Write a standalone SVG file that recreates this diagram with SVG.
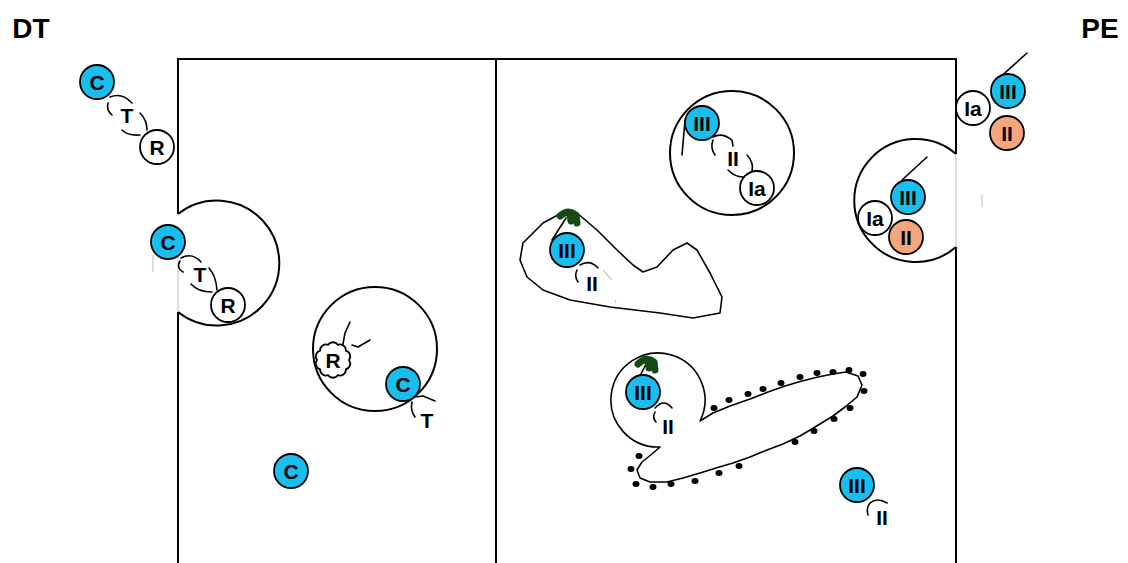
<svg xmlns="http://www.w3.org/2000/svg" width="1128" height="563" viewBox="0 0 1128 563">
<style>
.fr{fill:none;stroke:#000;stroke-width:2}
.fa{fill:none;stroke:#c8c8c8;stroke-width:1.2}
.ln{fill:none;stroke:#000;stroke-width:1.6;stroke-linecap:round;stroke-linejoin:round}
.cy{fill:#19BEEF;stroke:#000;stroke-width:1.8}
.wh{fill:#fff;stroke:#000;stroke-width:1.8}
.or{fill:#F6A67C;stroke:#000;stroke-width:1.8}
.gr{fill:none;stroke:#154a15;stroke-width:7;stroke-linecap:round;stroke-linejoin:round}
.t{font-family:"Liberation Sans",Arial,sans-serif;font-weight:bold;font-size:21px;text-anchor:middle;fill:#000}
.h{font-family:"Liberation Sans",Arial,sans-serif;font-weight:bold;font-size:28px;text-anchor:middle;fill:#000}
.dot{fill:#000}
</style>
<rect width="1128" height="563" fill="#fff"/>
<g id="frame">
<path class="fr" d="M178,563 V312 M178,214 V59 H956 V154 M956,247 V563 M496,59 V563"/>
<path class="fa" d="M178,255 V311 M153,255 V272 M956,156 V246 M982,195 V207"/>
</g>
<text class="h" x="31" y="38">DT</text>
<text class="h" x="1100" y="38">PE</text>
<g id="connectors">
<path class="ln" d="M110,97 Q122,92 132,103 M140,113 Q147,120 147,130 M108,103 Q106,110 112,115 M122,130 Q128,136 140,135"/>
<path class="ln" d="M181,258 Q192,252 201,262 M209,268 Q216,276 217,290 M180,261 Q176,268 183,272 M191,284 Q198,292 212,292"/>
<path class="ln" d="M343,344 L345,333 L350,322 M352,345 L358,347 L370,340"/>
<path class="ln" d="M415,397 L423,396 L435,401 M412,402 Q410,410 415,417"/>
<path class="ln" d="M713,137 Q722,132 732,140 L733,146 M713,140 Q710,148 715,155 M747,155 Q754,162 752,172 M728,170 Q735,177 743,177"/>
<path class="ln" d="M682,155 L685,120"/>
<path class="ln" d="M902,180 L927,157"/>
<path class="ln" d="M997,80 L1027,53"/>
<path class="ln" d="M577,270 Q574,276 578,282 M580,265 Q590,259 598,268"/>
<path class="fa" d="M603,270 L612,280 M615,300 L616,303"/>
<path class="ln" d="M552,240 L566,218"/>
<path class="ln" d="M655,408 Q664,398 672,408 M655,412 Q652,418 656,422"/>
<path class="ln" d="M636,384 L647,362"/>
<path class="ln" d="M868,515 Q866,508 870,503 Q877,497 887,503"/>
</g>
<g id="blob1">
<path class="ln" d="M567,210 L577,213 L597,230 L617,250 L633,265 L643,272 L657,267 L673,250 L687,243 L697,250 L710,273 L722,297 L720,313 L693,318 L660,313 L610,307 L570,300 L543,290 L527,277 L520,260 L523,243 L543,223 Z"/>
<path class="gr" d="M560,216 Q568,209 576,215 L577,223 M570,214 L571,221"/>
</g>
<g id="blob2">
<path class="ln" d="M660,447 A47,47 0 1 1 700,421 L713,413 L730,406 L750,399 L768,392 L785,386 L802,381 L818,377 L833,374 L846,372 L858,376 L862,385 L857,397 L845,407 L833,416 L815,427 L800,436 L783,444 L767,450 L750,457 L733,463 L716,468 L700,473 L683,478 L667,482 L650,482 L640,478 L637,470 L642,462 L652,454 Z"/>
<path class="gr" d="M638,364 Q646,356 654,362 L655,370 M648,361 L649,368"/>
<g class="dot">
<ellipse cx="714" cy="408" rx="3.5" ry="3"/><ellipse cx="729" cy="400" rx="3.5" ry="3"/><ellipse cx="748" cy="394" rx="3.5" ry="3"/><ellipse cx="763" cy="389" rx="3.5" ry="3"/><ellipse cx="781" cy="383" rx="3.5" ry="3"/><ellipse cx="800" cy="377" rx="3.5" ry="3"/><ellipse cx="817" cy="373" rx="3.5" ry="3"/><ellipse cx="833" cy="372" rx="3.5" ry="3"/><ellipse cx="849" cy="370" rx="3.5" ry="3"/><ellipse cx="863" cy="374" rx="3.5" ry="3"/><ellipse cx="864" cy="391" rx="3.5" ry="3"/><ellipse cx="850" cy="408" rx="3.5" ry="3"/><ellipse cx="834" cy="419" rx="3.5" ry="3"/><ellipse cx="814" cy="431" rx="3.5" ry="3"/><ellipse cx="795" cy="442" rx="3.5" ry="3"/><ellipse cx="739" cy="466" rx="3.5" ry="3"/><ellipse cx="719" cy="473" rx="3.5" ry="3"/><ellipse cx="695" cy="481" rx="3.5" ry="3"/><ellipse cx="671" cy="484" rx="3.5" ry="3"/><ellipse cx="653" cy="487" rx="3.5" ry="3"/><ellipse cx="636" cy="484" rx="3.5" ry="3"/><ellipse cx="631" cy="469" rx="3.5" ry="3"/><ellipse cx="639" cy="456" rx="3.5" ry="3"/>
</g>
</g>
<g id="cellL1"><path class="fr" d="M178,214 A62.5,62.5 0 1 1 178,312"/></g>
<g id="cellL2"><circle class="fr" cx="375" cy="349" r="62"/></g>
<g id="cellR1"><circle class="fr" cx="732" cy="153" r="62"/></g>
<g id="cellR2"><path class="fr" d="M956,154 A61.5,61.5 0 1 0 956,247"/></g>
<g id="n-dt-c"><circle class="cy" cx="97" cy="82" r="17"/><text class="t" x="97" y="90">C</text></g>
<g id="n-dt-t"><text class="t" x="127" y="123">T</text></g>
<g id="n-dt-r"><circle class="wh" cx="157" cy="147" r="17"/><text class="t" x="157" y="155">R</text></g>
<g id="n-l1-c"><circle class="cy" cx="168" cy="242" r="17"/><text class="t" x="168" y="250">C</text></g>
<g id="n-l1-t"><text class="t" x="200" y="282">T</text></g>
<g id="n-l1-r"><circle class="wh" cx="228" cy="305" r="17"/><text class="t" x="228" y="313">R</text></g>
<g id="n-l2-r"><path class="wh" d="M349,360 A6,6 0 0 1 345.9,369.4 A6,6 0 0 1 337.9,375.2 A6,6 0 0 1 328.1,375.2 A6,6 0 0 1 320.1,369.4 A6,6 0 0 1 317,360 A6,6 0 0 1 320.1,350.6 A6,6 0 0 1 328.1,344.8 A6,6 0 0 1 337.9,344.8 A6,6 0 0 1 345.9,350.6 A6,6 0 0 1 349,360 Z"/><text class="t" x="333" y="368">R</text></g>
<g id="n-l2-c"><circle class="cy" cx="403" cy="384" r="17"/><text class="t" x="403" y="392">C</text></g>
<g id="n-l2-t"><text class="t" x="427" y="428">T</text></g>
<g id="n-l3-c"><circle class="cy" cx="291" cy="471" r="17"/><text class="t" x="291" y="479">C</text></g>
<g id="n-r1-iii"><circle class="cy" cx="702" cy="123" r="17"/><text class="t" x="702" y="131">III</text></g>
<g id="n-r1-ii"><text class="t" x="733" y="166">II</text></g>
<g id="n-r1-ia"><circle class="wh" cx="757" cy="188" r="17"/><text class="t" x="757" y="196">Ia</text></g>
<g id="n-r2-iii"><circle class="cy" cx="908" cy="197" r="17"/><text class="t" x="908" y="205">III</text></g>
<g id="n-r2-ia"><circle class="wh" cx="875" cy="218" r="17"/><text class="t" x="875" y="226">Ia</text></g>
<g id="n-r2-ii"><circle class="or" cx="906" cy="237" r="17"/><text class="t" x="906" y="245">II</text></g>
<g id="n-pe-ia"><circle class="wh" cx="973" cy="108" r="17"/><text class="t" x="973" y="116">Ia</text></g>
<g id="n-pe-iii"><circle class="cy" cx="1008" cy="91" r="17"/><text class="t" x="1008" y="99">III</text></g>
<g id="n-pe-ii"><circle class="or" cx="1007" cy="133" r="17"/><text class="t" x="1007" y="141">II</text></g>
<g id="n-b1-iii"><circle class="cy" cx="567" cy="250" r="17"/><text class="t" x="567" y="258">III</text></g>
<g id="n-b1-ii"><text class="t" x="592" y="291">II</text></g>
<g id="n-b2-iii"><circle class="cy" cx="643" cy="392" r="17"/><text class="t" x="643" y="400">III</text></g>
<g id="n-b2-ii"><text class="t" x="668" y="434">II</text></g>
<g id="n-br-iii"><circle class="cy" cx="857" cy="485" r="17"/><text class="t" x="857" y="493">III</text></g>
<g id="n-br-ii"><text class="t" x="882" y="525">II</text></g>
</svg>
